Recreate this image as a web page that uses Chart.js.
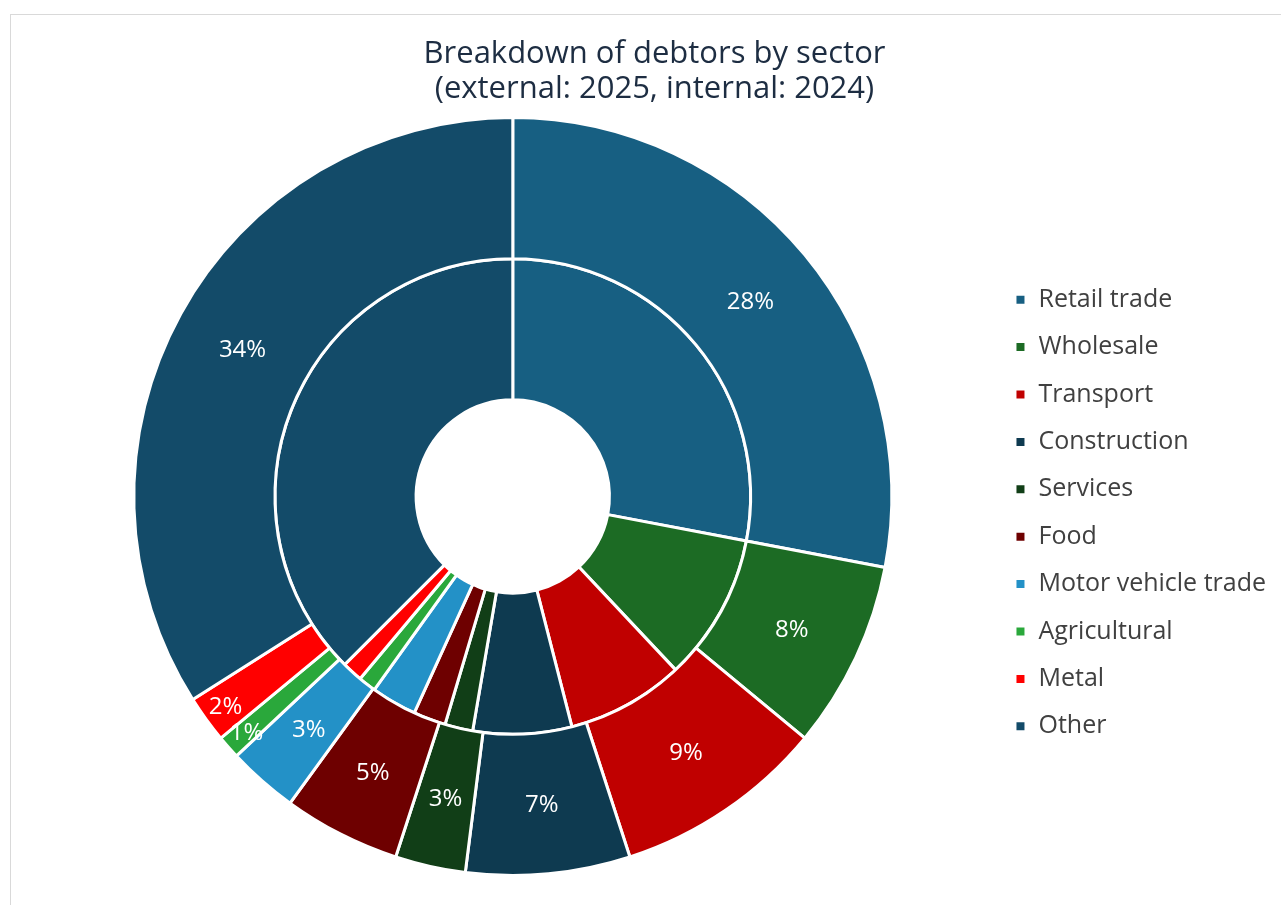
<!DOCTYPE html>
<html>
<head>
<meta charset="utf-8">
<script src="https://cdn.jsdelivr.net/npm/chart.js@4.4.1/dist/chart.umd.min.js"></script>
<style>
  html, body { margin: 0; padding: 0; background: #fff; overflow: hidden; }
  .frame {
    position: absolute; left: 10px; top: 14px; width: 1271px; height: 891px;
    border-left: 1px solid #d9d9d9; border-top: 1px solid #d9d9d9;
  }
  .frame canvas { display: block; }
</style>
</head>
<body>
<div class="frame"><canvas id="debtors" width="1270" height="890"></canvas></div>
<script>
const sectors = ["Retail trade", "Wholesale", "Transport", "Construction", "Services",
  "Food", "Motor vehicle trade", "Agricultural", "Metal", "Other"];
const external2025 = [28, 8, 9, 7, 3, 5, 3, 1, 2, 34];
const internal2024 = [28, 10, 8, 6.7, 1.9, 2.2, 3.1, 1.2, 1.4, 37.5];
const sectorColors = ["#175f82", "#1c6b24", "#c00000", "#0e3a50", "#113e17",
  "#6e0000", "#2391c7", "#2aa83b", "#ff0000", "#134b69"];

const FONT = "'Open Sans', Roboto, sans-serif";

// draws the % labels on the outer ring (external: 2025)
// thin slices get their label pushed out towards the rim
const ringLabels = {
  id: "ringLabels",
  afterDatasetsDraw(chart) {
    const ctx = chart.ctx;
    const meta = chart.getDatasetMeta(0);
    ctx.save();
    ctx.font = "400 24px " + FONT;
    ctx.fillStyle = "#ffffff";
    ctx.textAlign = "center";
    ctx.textBaseline = "middle";
    meta.data.forEach((arc, i) => {
      const { x, y, startAngle, endAngle, innerRadius, outerRadius } = arc.getProps(
        ["x", "y", "startAngle", "endAngle", "innerRadius", "outerRadius"], true);
      const mid = (startAngle + endAngle) / 2;
      const r = external2025[i] < 3 ? outerRadius - 24 : (innerRadius + outerRadius) / 2;
      ctx.fillText(external2025[i] + "%", x + Math.cos(mid) * r, y + Math.sin(mid) * r + 2);
    });
    ctx.restore();
  }
};

new Chart(document.getElementById("debtors"), {
  type: "doughnut",
  data: {
    labels: sectors,
    datasets: [
      { label: "2025", data: external2025, backgroundColor: sectorColors,
        borderColor: "#fff", borderWidth: 3 },
      { label: "2024", data: internal2024, backgroundColor: sectorColors,
        borderColor: "#fff", borderWidth: 3 }
    ]
  },
  options: {
    responsive: false,
    animation: false,
    cutout: "25.5%",
    layout: { padding: { left: 22, right: 5, top: 0, bottom: 28 } },
    plugins: {
      title: {
        display: true,
        text: ["Breakdown of debtors by sector", "(external: 2025, internal: 2024)"],
        color: "#1d2d42",
        font: { family: FONT, size: 31, weight: "400", lineHeight: "35px" },
        padding: { top: 22, bottom: 9 }
      },
      legend: {
        position: "right",
        title: { display: true, text: " ", font: { size: 10, lineHeight: 1 }, padding: { top: 124, bottom: 0 } },
        labels: {
          color: "#404040",
          font: { family: FONT, size: 25, weight: "400" },
          boxWidth: 11,
          boxHeight: 11,
          padding: 22.4
        }
      },
      tooltip: { enabled: false }
    }
  },
  plugins: [ringLabels]
});
</script>
</body>
</html>
